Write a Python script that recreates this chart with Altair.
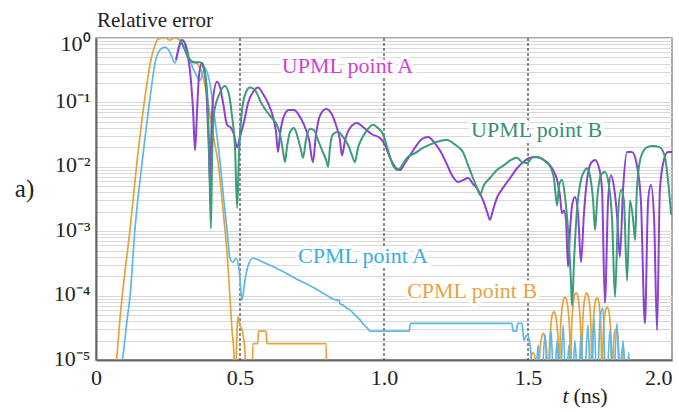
import altair as alt
import pandas as pd

FONT = "Liberation Serif"

# ---------------- data (t in ns, relative error) ----------------
cpml_a_t = [0.070, 0.094, 0.108, 0.118, 0.135, 0.160, 0.188, 0.205, 0.222, 0.240, 0.257, 0.274, 0.285,
            0.299, 0.313, 0.326, 0.347, 0.361, 0.378, 0.396, 0.413, 0.431, 0.444, 0.455, 0.465, 0.476,
            0.486, 0.497, 0.507, 0.517, 0.528, 0.545, 0.587, 0.639, 0.698, 0.753, 0.795, 0.837, 0.845,
            0.847, 0.861, 0.868, 0.882, 0.890, 0.899, 0.908, 0.917, 0.926, 0.934, 0.943, 0.951, 1.087,
            1.092, 1.444, 1.448, 1.460, 1.464, 1.479, 1.486, 1.494, 1.500, 1.507, 1.524, 1.535, 1.545,
            1.559, 1.569, 1.580, 1.590, 1.601, 1.611, 1.622, 1.632, 1.642, 1.653, 1.663, 1.674, 1.684,
            1.694, 1.708, 1.719, 1.729, 1.740, 1.750, 1.760, 1.771, 1.785, 1.795, 1.809, 1.819, 1.830,
            1.840, 1.850, 1.855]
cpml_a_v = [3e-6, 1.2e-5, 4.2e-5, 9.5e-5, 1.05e-3, 1.15e-2, 0.12, 0.41, 0.65, 0.72, 0.60, 0.41, 0.60,
            0.93, 0.78, 0.46, 0.27, 0.22, 0.34, 0.19, 0.053, 0.0115, 3.0e-3, 1.05e-3, 3.8e-4, 3.3e-4,
            3.8e-4, 2.5e-4, 8.5e-5, 1.7e-4, 2.9e-4, 3.8e-4, 3.2e-4, 2.5e-4, 1.8e-4, 1.35e-4, 1.05e-4, 8.5e-5, 8.5e-5,
            7.5e-5, 7.0e-5, 6.5e-5, 6.0e-5, 5.5e-5, 5.0e-5, 4.6e-5, 4.2e-5, 3.7e-5, 3.4e-5, 3.1e-5, 2.8e-5, 2.8e-5,
            3.7e-5, 3.7e-5, 2.8e-5, 2.8e-5, 3.7e-5, 3.7e-5, 2.0e-5, 2.4e-5, 2.4e-5, 1.7e-5, 3e-6, 1.7e-5, 3e-6,
            2.5e-5, 3e-6, 2.9e-5, 3e-6, 2.0e-5, 3e-6, 3.5e-5, 3e-6, 1.7e-5, 3e-6, 2.0e-5, 3e-6, 2.5e-5,
            3e-6, 3.5e-5, 3e-6, 4.5e-5, 3e-6, 4.2e-5, 6.4e-5, 3e-6, 2.9e-5, 3e-6, 3.7e-5, 3e-6, 2.0e-5,
            3e-6, 1.3e-5, 3e-6]

cpml_b_t = [0.056, 0.073, 0.083, 0.097, 0.118, 0.142, 0.170, 0.191, 0.205, 0.215, 0.240, 0.257, 0.274,
            0.292, 0.309, 0.326, 0.347, 0.361, 0.378, 0.396, 0.410, 0.424, 0.438, 0.448, 0.458, 0.465,
            0.472, 0.479, 0.483, 0.490, 0.493, 0.500, 0.510, 0.517, 0.524, 0.542, 0.545, 0.562, 0.564,
            0.590, 0.594, 0.799, 0.802, 1.500,
            1.503, 1.507, 1.512, 1.517, 1.523, 1.528, 1.532, 1.535,
            1.538, 1.542, 1.548, 1.553, 1.558, 1.564, 1.568, 1.571,
            1.574, 1.579, 1.584, 1.590, 1.596, 1.601, 1.606, 1.609,
            1.612, 1.617, 1.623, 1.628, 1.634, 1.640, 1.645, 1.648,
            1.651, 1.656, 1.661, 1.667, 1.673, 1.678, 1.683, 1.686,
            1.689, 1.693, 1.699, 1.704, 1.709, 1.715, 1.719, 1.722,
            1.725, 1.729, 1.734, 1.740, 1.745, 1.750, 1.754, 1.757,
            1.760, 1.764, 1.769, 1.774, 1.780, 1.785, 1.789, 1.792,
            1.794, 1.797, 1.801, 1.806, 1.810, 1.814, 1.817, 1.819,
            1.821, 1.823, 1.826, 1.830, 1.833, 1.836, 1.838, 1.840]
cpml_b_v = [3e-6, 1.2e-5, 4.2e-5, 1.7e-4, 1.05e-3, 1.15e-2, 0.12, 0.46, 0.78, 0.96, 1.0, 0.93, 1.0,
            0.93, 0.65, 0.42, 0.41, 0.34, 0.19, 0.063, 0.026, 0.0115, 3.0e-3, 1.05e-3, 3.0e-4, 9.5e-5,
            3.0e-5, 1.2e-5, 3e-6, 3.0e-5, 4.7e-5, 3.5e-5, 2.6e-5, 1.4e-5, 3e-6, 3e-6, 1.8e-5, 1.8e-5, 2.8e-5,
            2.8e-5, 1.8e-5, 1.8e-5, 3e-6, 3e-6,
            3.3e-6, 7.7e-6, 1.16e-5, 1.3e-5, 1.16e-5, 7.7e-6, 3.3e-6, 3e-6,
            6.5e-6, 1.53e-5, 2.3e-5, 2.6e-5, 2.3e-5, 1.53e-5, 6.5e-6, 3e-6,
            1.4e-5, 3.3e-5, 5.0e-5, 5.6e-5, 5.0e-5, 3.3e-5, 1.4e-5, 3e-6,
            2.4e-5, 5.6e-5, 8.5e-5, 9.5e-5, 8.5e-5, 5.6e-5, 2.4e-5, 3e-6,
            2.75e-5, 6.5e-5, 9.8e-5, 1.1e-4, 9.8e-5, 6.5e-5, 2.75e-5, 3e-6,
            2.75e-5, 6.5e-5, 9.8e-5, 1.1e-4, 9.8e-5, 6.5e-5, 2.75e-5, 3e-6,
            2.3e-5, 5.4e-5, 8.2e-5, 9.2e-5, 8.2e-5, 5.4e-5, 2.3e-5, 3e-6,
            1.65e-5, 3.9e-5, 5.9e-5, 6.6e-5, 5.9e-5, 3.9e-5, 1.65e-5, 3e-6,
            7.5e-6, 1.8e-5, 2.7e-5, 3.0e-5, 2.7e-5, 1.8e-5, 7.5e-6, 3e-6,
            3.8e-6, 8.9e-6, 1.34e-5, 1.5e-5, 1.34e-5, 8.9e-6, 3.8e-6, 3e-6]

upml_a_t = [0.278, 0.299, 0.313, 0.326, 0.337, 0.344, 0.351, 0.358, 0.368, 0.378, 0.385, 0.392, 0.396,
            0.399, 0.406, 0.420, 0.431, 0.441, 0.455, 0.469, 0.479, 0.490, 0.500, 0.514, 0.528, 0.545,
            0.5625, 0.580, 0.597, 0.615, 0.625, 0.632, 0.639, 0.653, 0.670, 0.6875, 0.705, 0.722, 0.740,
            0.753, 0.764, 0.778, 0.799, 0.816, 0.833, 0.847, 0.854, 0.865, 0.882, 0.906, 0.931, 0.958,
            0.986, 1.003, 1.021, 1.038, 1.056, 1.073, 1.090, 1.111, 1.132, 1.153, 1.174, 1.194, 1.215,
            1.236, 1.257, 1.274, 1.292, 1.309, 1.326, 1.344, 1.358, 1.368, 1.378, 1.392, 1.413, 1.438,
            1.462, 1.483, 1.507, 1.531, 1.552, 1.569, 1.587, 1.601, 1.611, 1.618, 1.625, 1.632, 1.639,
            1.646, 1.653, 1.663, 1.674, 1.684, 1.694, 1.705, 1.719, 1.733, 1.747, 1.757, 1.767, 1.778,
            1.788, 1.799, 1.809, 1.819, 1.830, 1.844, 1.861, 1.878, 1.892, 1.906, 1.917, 1.927, 1.938,
            1.948, 1.958, 1.972, 1.986, 2.000]
upml_a_v = [0.46, 0.93, 0.70, 0.32, 0.076, 0.018, 0.076, 0.27, 0.41, 0.30, 0.11, 0.018, 4.9e-3,
            0.018, 0.11, 0.21, 0.17, 0.10, 0.045, 0.040, 0.032, 0.020, 0.029, 0.050, 0.098, 0.145,
            0.17, 0.135, 0.098, 0.059, 0.035, 0.017, 0.032, 0.062, 0.076, 0.076, 0.063, 0.045, 0.026,
            0.0118, 0.032, 0.063, 0.079, 0.069, 0.045, 0.026, 0.015, 0.026, 0.040, 0.048, 0.040, 0.032,
            0.028, 0.022, 0.0138, 0.010, 0.0089, 0.0115, 0.015, 0.021, 0.027, 0.029, 0.024, 0.018, 0.0118,
            7.4e-3, 5.8e-3, 6.2e-3, 6.7e-3, 5.4e-3, 4.4e-3, 3.0e-3, 2.0e-3, 1.5e-3, 2.1e-3, 3.3e-3, 4.7e-3, 6.7e-3,
            9.5e-3, 0.0118, 0.0138, 0.0142, 0.013, 0.0115, 8.9e-3, 6.3e-3, 3.6e-3, 1.9e-3, 2.1e-3, 1.5e-3, 2.8e-4,
            1.05e-3, 2.5e-3, 3.4e-3, 1.8e-3, 3.3e-4, 1.8e-3, 6.3e-3, 0.0115, 0.0128, 9.5e-3, 4.4e-3, 7.7e-5, 3.0e-3,
            7.4e-3, 4.7e-3, 1.8e-3, 4.0e-4, 4.4e-3, 0.017, 0.017, 0.0106, 3.0e-3, 3.7e-5, 3.0e-3, 5.2e-3, 1.5e-3,
            2.9e-5, 4.4e-3, 0.0128, 0.017, 0.017]

upml_b_t = [0.292, 0.309, 0.326, 0.344, 0.361, 0.375, 0.385, 0.392, 0.399, 0.403, 0.410, 0.427, 0.448,
            0.462, 0.472, 0.483, 0.490, 0.497, 0.507, 0.521, 0.535, 0.552, 0.573, 0.594, 0.611, 0.628,
            0.639, 0.649, 0.656, 0.663, 0.674, 0.6875, 0.701, 0.712, 0.719, 0.729, 0.743, 0.757, 0.771,
            0.785, 0.799, 0.806, 0.8125, 0.823, 0.840, 0.858, 0.875, 0.889, 0.899, 0.910, 0.924, 0.941,
            0.962, 0.979, 0.997, 1.014, 1.031, 1.049, 1.063, 1.080, 1.108, 1.135, 1.163, 1.191, 1.219,
            1.247, 1.274, 1.292, 1.309, 1.323, 1.333, 1.347, 1.368, 1.392, 1.417, 1.441, 1.462, 1.479,
            1.497, 1.517, 1.542, 1.563, 1.580, 1.590, 1.601, 1.608, 1.618, 1.628, 1.639, 1.649, 1.653,
            1.660, 1.670, 1.684, 1.694, 1.705, 1.715, 1.726, 1.733, 1.740, 1.753, 1.767, 1.781, 1.792,
            1.802, 1.812, 1.823, 1.833, 1.844, 1.854, 1.865, 1.872, 1.878, 1.892, 1.913, 1.934, 1.958,
            1.976, 1.986, 1.997]
upml_b_v = [0.93, 0.65, 0.46, 0.42, 0.42, 0.32, 0.16, 0.026, 1.1e-3, 0.0126, 0.069, 0.13, 0.18,
            0.13, 0.063, 0.018, 2.3e-3, 0.018, 0.076, 0.145, 0.17, 0.155, 0.10, 0.071, 0.057, 0.045,
            0.032, 0.018, 0.0118, 0.020, 0.035, 0.040, 0.028, 0.018, 0.0138, 0.026, 0.039, 0.037, 0.026,
            0.018, 0.0128, 0.010, 0.020, 0.032, 0.035, 0.029, 0.022, 0.015, 0.0118, 0.020, 0.028, 0.037,
            0.045, 0.040, 0.032, 0.018, 0.0106, 0.0089, 0.0106, 0.0138, 0.0163, 0.0196, 0.0225, 0.025, 0.026,
            0.022, 0.017, 0.0106, 6.7e-3, 4.7e-3, 3.7e-3, 5.2e-3, 6.7e-3, 8.9e-3, 0.0106, 0.0128, 0.0138, 0.0118,
            0.0115, 0.0142, 0.0138, 0.0118, 9.5e-3, 6.7e-3, 2.5e-3, 5.2e-3, 6.3e-3, 3.6e-3, 1.05e-3, 1.7e-4, 7.0e-5,
            3.6e-4, 2.1e-3, 6.3e-3, 8.3e-3, 9.5e-3, 7.4e-3, 3.0e-3, 1.05e-3, 3.0e-3, 7.4e-3, 8.3e-3, 5.2e-3, 1.5e-3,
            9.5e-5, 1.5e-3, 4.4e-3, 3.0e-3, 1.7e-4, 3.0e-3, 1.5e-3, 7.3e-4, 4.4e-3, 0.0142, 0.020, 0.021, 0.020,
            0.0138, 6.3e-3, 1.8e-3]

dashed_t = [0.5, 1.0, 1.5]
x_tick_values = [0, 0.5, 1.0, 1.5, 2.0]

series_names = ["UPML point A", "UPML point B", "CPML point A", "CPML point B"]
series_label_t = [0.873, 1.530, 0.927, 1.306]
series_label_v = [0.286, 0.029, 3.2e-4, 9.2e-5]
series_label_color = ["#d23fd6", "#3a8f70", "#38aee0", "#e8a443"]

other_text = ["a)", "Relative error", "(ns)"]
other_t = [-0.248, 0.205, 1.717]
other_v = [3.4e-3, 1.48, 2.15e-6]
other_size = [25, 21, 22]
italic_text = ["t"]
italic_t = [1.630]
italic_v = [2.15e-6]

# ---------------- scales / axes ----------------
x_scale = alt.Scale(domain=[0, 2.0], nice=False, zero=False)
y_scale = alt.Scale(type="log", domain=[1e-5, 1], nice=False)

grid_vals = [m * 10.0 ** e for e in range(-5, 0) for m in range(1, 10)] + [1.0]
y_label_expr = ("abs(log(datum.value)/LN10 - round(log(datum.value)/LN10)) < 0.001 ? "
                "'10' + ['\u2070','\u207b\u00b9','\u207b\u00b2','\u207b\u00b3','\u207b\u2074','\u207b\u2075']"
                "[round(-log(datum.value)/LN10)] : ''")

x_axis = alt.Axis(values=x_tick_values, labelExpr="datum.value == 0 ? '0' : format(datum.value, '.1f')",
                  grid=False, ticks=False, domainColor="#666666", domainWidth=2, labelFont=FONT,
                  labelFontSize=22, labelColor="#222222", labelPadding=7, title=None, labelFlush=False,
                  labelAlign={"condition": {"test": "datum.value == 2", "value": "right"}, "value": "center"})
y_axis = alt.Axis(values=grid_vals, labelExpr=y_label_expr, grid=True, gridColor="#d9d9d9", gridWidth=1,
                  ticks=False, domainColor="#666666", domainWidth=2, labelFont=FONT, labelFontSize=22,
                  labelColor="#222222", labelPadding=6, title=None, labelOverlap=False, labelBound=False,
                  labelFlush=False,
                  labelOffset={"condition": {"test": "datum.value == 1", "value": 5}, "value": -2})

X = alt.X("t:Q", scale=x_scale, axis=x_axis)
Y = alt.Y("v:Q", scale=y_scale, axis=y_axis)

rules = alt.Chart(pd.DataFrame({"t": dashed_t})).mark_rule(
    color="#444444", strokeDash=[3, 2], strokeWidth=1.2).encode(x=X)


def line(t, v, color, width):
    df = pd.DataFrame({"t": t, "v": v})
    return alt.Chart(df).mark_line(clip=True, interpolate="monotone", color=color,
                                   strokeWidth=width).encode(x=X, y=Y)


lines = [
    line(cpml_b_t, cpml_b_v, "#e3a43b", 1.7),
    line(cpml_a_t, cpml_a_v, "#5db8e6", 1.7),
    line(upml_a_t, upml_a_v, "#8d40d2", 2.0),
    line(upml_b_t, upml_b_v, "#3a9c7b", 2.0),
]

lab_df = pd.DataFrame({"t": series_label_t, "v": series_label_v, "label": series_names,
                       "color": series_label_color})
halo = alt.Chart(lab_df).mark_text(font=FONT, fontSize=22, baseline="alphabetic", align="center",
                                   stroke="white", strokeWidth=7, strokeJoin="round", fill="white",
                                   clip=False).encode(x=X, y=Y, text="label:N")
labels = alt.Chart(lab_df).mark_text(font=FONT, fontSize=22, baseline="alphabetic", align="center",
                                     clip=False).encode(x=X, y=Y, text="label:N",
                                                        color=alt.Color("color:N", scale=None))

oth_df = pd.DataFrame({"t": other_t, "v": other_v, "label": other_text, "size": other_size})
others = alt.Chart(oth_df).mark_text(font=FONT, baseline="alphabetic", align="center", color="#222222",
                                     clip=False).encode(x=X, y=Y, text="label:N",
                                                        size=alt.Size("size:Q", scale=None))
ita_df = pd.DataFrame({"t": italic_t, "v": italic_v, "label": italic_text})
italic = alt.Chart(ita_df).mark_text(font=FONT, fontStyle="italic", fontSize=22, baseline="alphabetic",
                                     align="center", color="#222222", clip=False).encode(
    x=X, y=Y, text="label:N")

chart = alt.layer(rules, *lines, halo, labels, others, italic).properties(
    width=576, height=322,
    padding={"left": 96, "top": 38, "right": 7, "bottom": 52},
    autosize=alt.AutoSizeParams(type="none"),
    background="white",
).configure_view(stroke="#8a8a8a", strokeWidth=1.5)

chart.save("out.html", embed_options={"renderer": "svg", "actions": False})
